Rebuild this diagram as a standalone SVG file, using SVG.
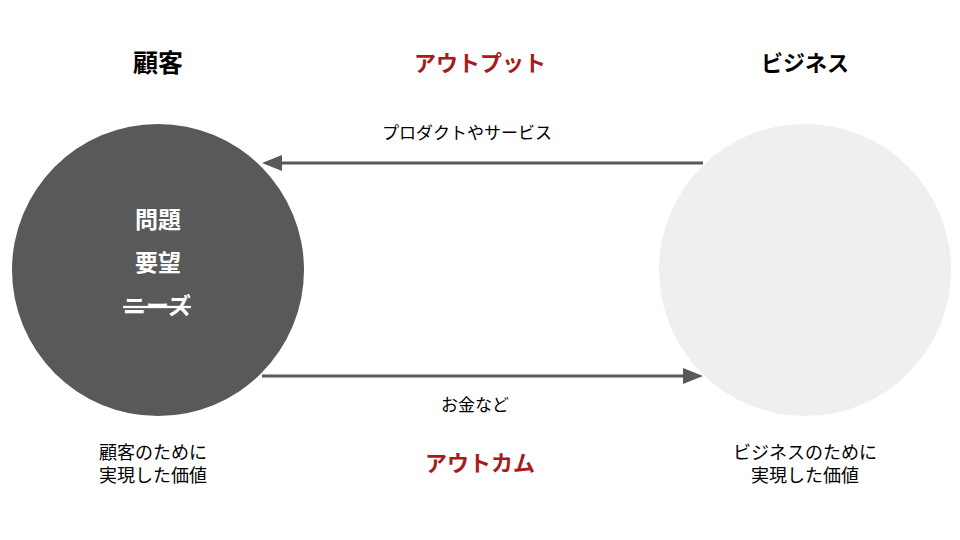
<svg xmlns="http://www.w3.org/2000/svg" width="960" height="540" viewBox="0 0 960 540">
<style>
text{font-family:"Liberation Sans","Noto Sans CJK JP",sans-serif;text-anchor:middle}
.h{font-size:22px;font-weight:bold;fill:#000}
.k{font-size:25px}
.r{fill:#a61c1c}
.in{font-size:23px;font-weight:bold;fill:#fff}
.lb{font-size:17px;fill:#000}
.cap{font-size:18px;fill:#000}
.conn{stroke:#595959;stroke-width:3;fill:none}
</style>
<rect width="960" height="540" fill="#fff"/>
<g id="customer">
<circle cx="158" cy="270" r="146" fill="#595959"/>
<text class="in" x="158" y="228">問題</text>
<text class="in" x="158" y="271">要望</text>
<text class="in" x="157" y="314" text-decoration="line-through">ニーズ</text>
</g>
<g id="business">
<circle cx="805" cy="270" r="146" fill="#efefef"/>
</g>
<g id="titles">
<text class="h k" x="158" y="72">顧客</text>
<text class="h r" x="480" y="71">アウトプット</text>
<text class="h" x="805" y="71">ビジネス</text>
<text class="h r" x="480" y="471">アウトカム</text>
</g>
<g id="captions">
<text class="cap" x="153" y="459">顧客のために</text>
<text class="cap" x="153" y="482">実現した価値</text>
<text class="cap" x="805" y="459">ビジネスのために</text>
<text class="cap" x="805" y="482">実現した価値</text>
</g>
<g id="connectors">
<line class="conn" x1="703" y1="163" x2="280" y2="163"/>
<path d="M262,163 L282,155 L282,171 z" fill="#595959"/>
<line class="conn" x1="262" y1="376" x2="685" y2="376"/>
<path d="M703,376 L683,368 L683,384 z" fill="#595959"/>
<text class="lb" x="467" y="139">プロダクトやサービス</text>
<text class="lb" x="475" y="411">お金など</text>
</g>
</svg>
